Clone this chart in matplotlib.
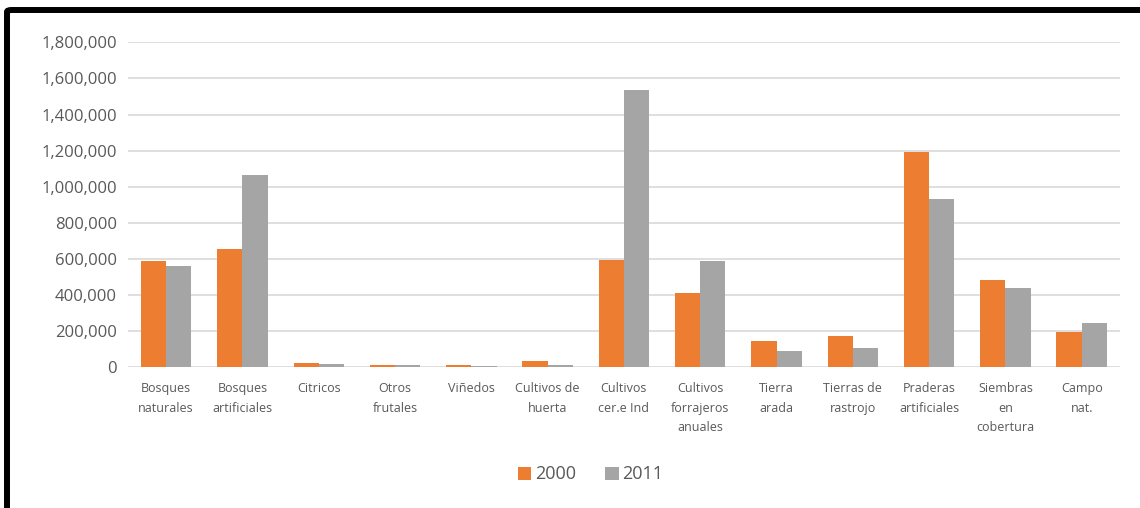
import numpy as np
import matplotlib
matplotlib.use('Agg')
from matplotlib import pyplot as plt
from matplotlib.patches import FancyBboxPatch
from matplotlib.ticker import FuncFormatter

# superficie por uso del suelo (hectareas)
categorias = ['Bosques\nnaturales', 'Bosques\nartificiales', 'Citricos', 'Otros\nfrutales',
              'Viñedos', 'Cultivos de\nhuerta', 'Cultivos\ncer.e Ind', 'Cultivos\nforrajeros\nanuales',
              'Tierra\narada', 'Tierras de\nrastrojo', 'Praderas\nartificiales', 'Siembras\nen\ncobertura',
              'Campo\nnat.']
valores_2000 = [587000, 656000, 22000, 13000, 9000, 33000, 593000, 412000,
                146000, 174000, 1191000, 484000, 192000]
valores_2011 = [560000, 1066000, 15000, 13000, 8000, 13000, 1535000, 587000,
                89000, 104000, 931000, 438000, 242000]
anios = ['2000', '2011']

naranja = '#ED7D31'
gris = '#A5A5A5'
texto = '#595959'

plt.rcParams['font.family'] = ['Open Sans', 'DejaVu Sans']

fig = plt.figure(figsize=(11.4, 5.08), dpi=100)
ax = fig.add_axes([0.1123, 0.2776, 0.870, 0.639])

x = np.arange(len(categorias))
ancho = 0.33
b1 = ax.bar(x - ancho / 2, valores_2000, ancho, color=naranja, label=anios[0], zorder=3)
b2 = ax.bar(x + ancho / 2, valores_2011, ancho, color=gris, label=anios[1], zorder=3)

ax.set_xlim(-0.5, len(categorias) - 0.5)
ax.set_ylim(0, 1800000)
ax.set_yticks(np.arange(0, 1800001, 200000))
ax.yaxis.set_major_formatter(FuncFormatter(lambda v, p: f'{int(v):,}'))
ax.grid(axis='y', color='#D9D9D9', linewidth=1.2, zorder=0)
for s in ax.spines.values():
    s.set_visible(False)
ax.tick_params(axis='y', length=0, pad=8, labelsize=12, labelcolor=texto)
ax.set_xticks(x)
ax.set_xticklabels(categorias, fontsize=9, color=texto, linespacing=1.65,
                   multialignment='center')
ax.tick_params(axis='x', length=0, pad=11)

fig.legend(handles=[b1, b2], labels=anios, loc='center', bbox_to_anchor=(0.518, 0.066),
           ncol=2, frameon=False, fontsize=13, handlelength=0.75, handleheight=0.75,
           handletextpad=0.2, columnspacing=1.6, labelcolor=texto)

# marco negro recortado
marco = FancyBboxPatch((7 / 1140, -0.1), 1.2, (508 - 10) / 508 + 0.1,
                       boxstyle='round,pad=0,rounding_size=0.004',
                       transform=fig.transFigure, facecolor='none',
                       edgecolor='black', linewidth=4.3, zorder=10)
fig.patches.append(marco)

fig.savefig('out.png', dpi=100)
